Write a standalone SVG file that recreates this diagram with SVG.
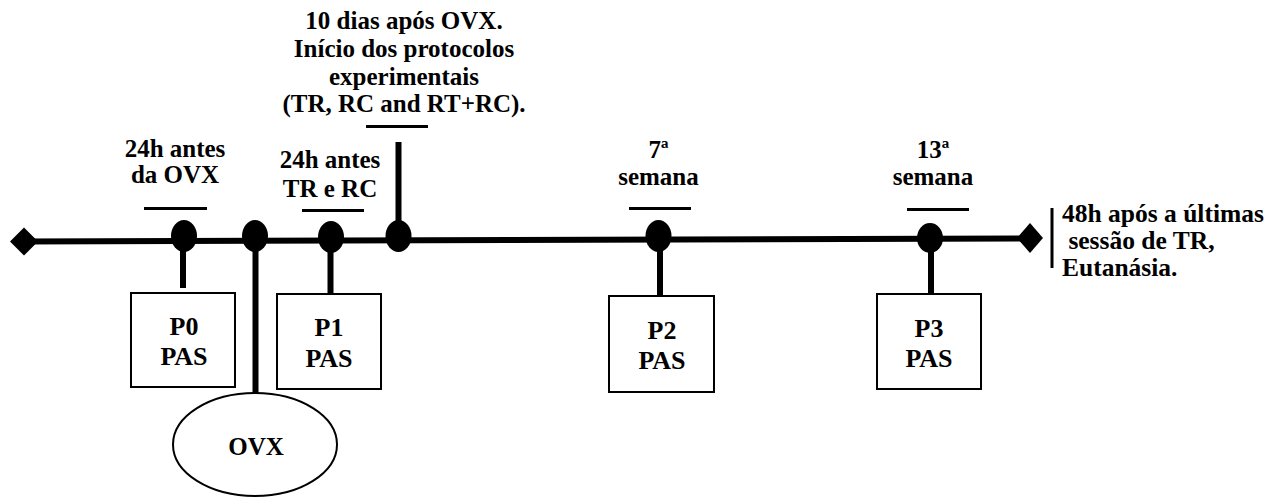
<svg xmlns="http://www.w3.org/2000/svg" width="1271" height="498" viewBox="0 0 1271 498">
<style>
text{font-family:'Liberation Serif','Times New Roman',Times,'DejaVu Serif',serif;font-weight:700;font-size:25px;fill:#000}
.c{text-anchor:middle}
.big{font-size:26px}
.end{font-size:25.5px}
.box{fill:#fff;stroke:#000;stroke-width:2}
.bar{stroke:#000;stroke-width:3}
.stem{stroke:#000;stroke-width:6}
.dot{fill:#000}
</style>
<rect width="1271" height="498" fill="#fff"/>
<g id="connectors">
<line x1="24" y1="241.5" x2="1030" y2="238.5" stroke="#000" stroke-width="6"/>
<polygon points="10,241.5 24,227.5 38,241.5 24,255.5" fill="#000"/>
<polygon points="1017,238 1030,223 1043,238 1030,253" fill="#000"/>
<line x1="1052" y1="208" x2="1052" y2="268" stroke="#000" stroke-width="3"/>
<line class="stem" x1="183" y1="236" x2="183" y2="288"/>
<line class="stem" x1="255.5" y1="236" x2="255.5" y2="394"/>
<line class="stem" x1="330.5" y1="237" x2="330.5" y2="293"/>
<line class="stem" x1="398.5" y1="142" x2="398.5" y2="237"/>
<line class="stem" x1="660" y1="236" x2="660" y2="296"/>
<line class="stem" x1="931" y1="238" x2="931" y2="294"/>
<line class="bar" x1="144" y1="208.5" x2="207" y2="208.5"/>
<line class="bar" x1="302" y1="210.5" x2="364" y2="210.5"/>
<line class="bar" x1="366" y1="126.5" x2="428" y2="126.5"/>
<line class="bar" x1="629" y1="208.5" x2="691" y2="208.5"/>
<line class="bar" x1="907" y1="209.5" x2="969" y2="209.5"/>
<ellipse class="dot" cx="184" cy="236" rx="13" ry="16"/>
<ellipse class="dot" cx="255" cy="236" rx="13" ry="16"/>
<ellipse class="dot" cx="331" cy="237" rx="13" ry="16"/>
<ellipse class="dot" cx="398.5" cy="236" rx="13" ry="16"/>
<ellipse class="dot" cx="658.5" cy="236" rx="13" ry="16"/>
<ellipse class="dot" cx="930" cy="238" rx="13" ry="15"/>
</g>
<g id="label-p0">
<text class="c" x="175" y="157">24h antes</text>
<text class="c" x="175" y="183">da OVX</text>
</g>
<g id="label-p1">
<text class="c" x="330" y="168">24h antes</text>
<text class="c" x="330" y="197">TR e RC</text>
</g>
<g id="label-protocol">
<text class="c" x="404" y="29">10 dias após OVX.</text>
<text class="c" x="404" y="57">Início dos protocolos</text>
<text class="c" x="404" y="85">experimentais</text>
<text class="c" x="404" y="112">(TR, RC and RT+RC).</text>
</g>
<g id="label-p2">
<text class="c" x="658.5" y="158">7ª</text>
<text class="c" x="658.5" y="185">semana</text>
</g>
<g id="label-p3">
<text class="c" x="933" y="158">13ª</text>
<text class="c" x="933" y="185">semana</text>
</g>
<g id="label-end">
<text class="end" x="1062" y="222">48h após a últimas</text>
<text class="end" x="1062" y="249" xml:space="preserve"> sessão de TR,</text>
<text class="end" x="1062" y="276">Eutanásia.</text>
</g>
<g id="node-p0">
<rect class="box" x="131" y="293" width="104" height="94"/>
<text class="c big" x="184" y="335">P0</text>
<text class="c big" x="184" y="365">PAS</text>
</g>
<g id="node-p1">
<rect class="box" x="277" y="294" width="104" height="95"/>
<text class="c big" x="329" y="336">P1</text>
<text class="c big" x="329" y="367">PAS</text>
</g>
<g id="node-p2">
<rect class="box" x="609" y="296" width="105" height="96"/>
<text class="c big" x="662" y="339">P2</text>
<text class="c big" x="662" y="369">PAS</text>
</g>
<g id="node-p3">
<rect class="box" x="877" y="294" width="104" height="95"/>
<text class="c big" x="929" y="337">P3</text>
<text class="c big" x="929" y="367">PAS</text>
</g>
<g id="node-ovx">
<ellipse class="box" cx="255" cy="444.5" rx="82" ry="51.5"/>
<text class="c" x="256" y="455">OVX</text>
</g>
</svg>
